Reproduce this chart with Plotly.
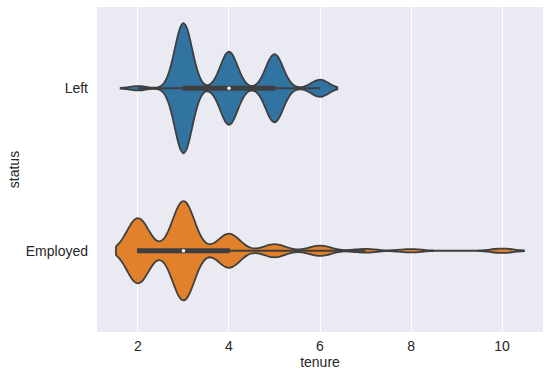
import numpy as np
import plotly.graph_objects as go

# Data: tenure value counts per status
tenure_levels = [2, 3, 4, 5, 6, 7, 8, 10]
left_counts = [53, 1586, 890, 833, 209, 0, 0, 0]
employed_counts = [3191, 4857, 1667, 640, 509, 188, 162, 214]
categories = ["Left", "Employed"]
colors = ["#3274a1", "#e1812c"]
x_ticks = [2, 4, 6, 8, 10]

samples = [np.repeat(tenure_levels, left_counts).astype(float),
           np.repeat(tenure_levels, employed_counts).astype(float)]

def scott_bw(x):
    return len(x) ** (-1 / 5) * np.std(x, ddof=1)

def kde_peak(x, bw):
    vals, cnts = np.unique(x, return_counts=True)
    grid = np.linspace(x.min() - 2 * bw, x.max() + 2 * bw, 2000)
    dens = (cnts[None, :] * np.exp(-0.5 * ((grid[:, None] - vals[None, :]) / bw) ** 2)).sum(1)
    dens /= (len(x) * bw * np.sqrt(2 * np.pi))
    return dens.max()

bws = [scott_bw(s) for s in samples]
peaks = [kde_peak(s, b) for s, b in zip(samples, bws)]
pmax = max(peaks)

fig = go.Figure()
outline = "#3f3f3f"
for cat, s, bw, pk, col in zip(categories, samples, bws, peaks, colors):
    w = 0.8 * pk / pmax
    fig.add_trace(go.Violin(
        x=s, y=[cat] * len(s), orientation="h", name=cat,
        bandwidth=bw, spanmode="soft", width=w, scalemode="width",
        fillcolor=col, opacity=1, line=dict(color=outline, width=1.8),
        points=False, meanline_visible=False,
        box=dict(visible=True, width=0.026 * 0.8 / w, fillcolor=outline,
                 line=dict(color=outline, width=1.8)),
        hoverinfo="skip", showlegend=False,
    ))
    fig.add_trace(go.Scatter(
        x=[np.median(s)], y=[cat], mode="markers",
        marker=dict(color="white", size=3.5, line=dict(width=0)),
        showlegend=False, hoverinfo="skip",
    ))

fig.update_layout(
    width=550, height=379,
    margin=dict(l=97, r=7, t=7, b=46.5, autoexpand=False),
    paper_bgcolor="white", plot_bgcolor="#eaeaf2",
    font=dict(family="Arial, Liberation Sans, sans-serif", size=14, color="#262626"),
    violinmode="overlay",
)
fig.update_xaxes(range=[1.1, 10.9], tickvals=x_ticks, ticktext=[str(t) for t in x_ticks],
                 showgrid=True, gridcolor="white", gridwidth=1, zeroline=False,
                 ticks="", ticklabelstandoff=4, automargin=False,
                 title=dict(text="tenure", font=dict(size=14), standoff=4))
fig.update_yaxes(type="category", categoryorder="array", categoryarray=categories,
                 range=[1.5, -0.5], showgrid=False, zeroline=False, ticks="",
                 ticklabelstandoff=8, automargin=False,
                 title=dict(text="status", font=dict(size=14), standoff=2))

fig.write_html("out.html", config={"displayModeBar": False},
               post_script="document.body.style.margin='0';")
